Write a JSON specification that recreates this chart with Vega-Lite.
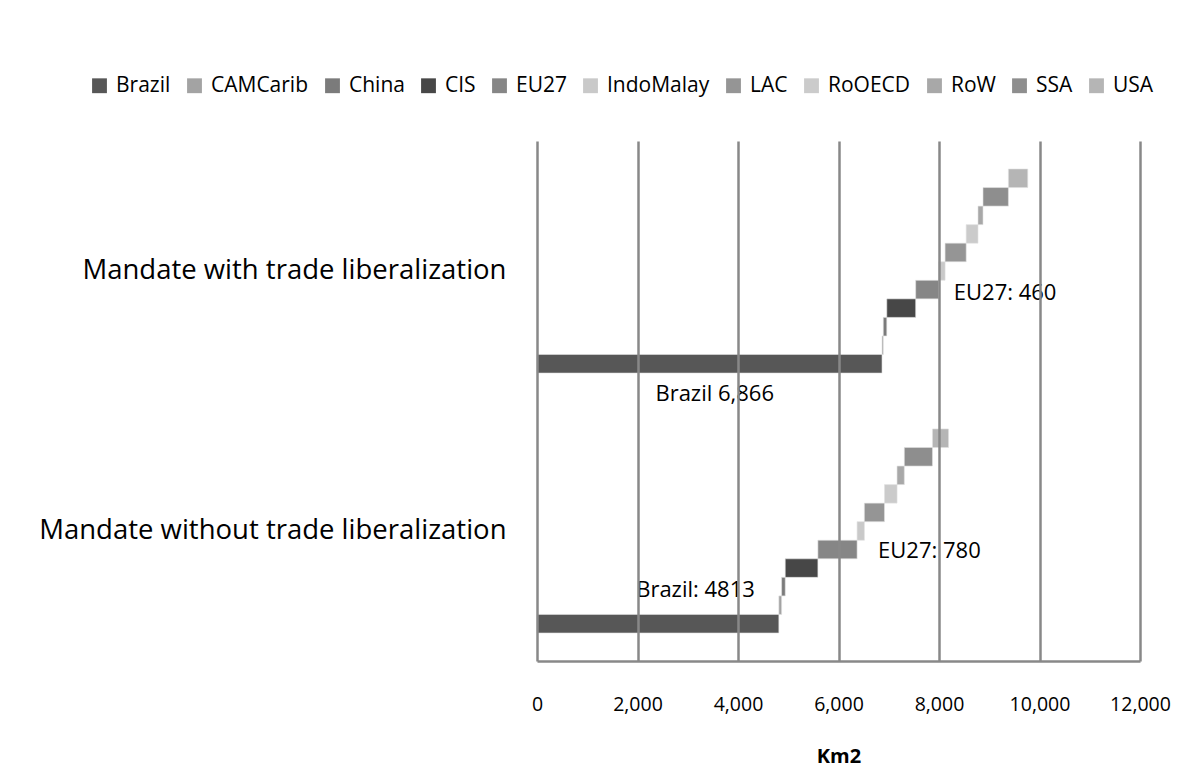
{
  "$schema": "https://vega.github.io/schema/vega-lite/v6.json",
  "width": 603,
  "height": 520,
  "autosize": "none",
  "padding": {"left": 537, "top": 141, "right": 42, "bottom": 110},
  "background": "white",
  "config": {
    "font": "Open Sans",
    "view": {"stroke": null}
  },
  "data": {
    "values": [
      {"scenario": "Mandate with trade liberalization", "region": "Brazil", "area": 6866, "note": "Brazil 6,866"},
      {"scenario": "Mandate with trade liberalization", "region": "CAMCarib", "area": 25},
      {"scenario": "Mandate with trade liberalization", "region": "China", "area": 70},
      {"scenario": "Mandate with trade liberalization", "region": "CIS", "area": 575},
      {"scenario": "Mandate with trade liberalization", "region": "EU27", "area": 460, "note": "EU27: 460"},
      {"scenario": "Mandate with trade liberalization", "region": "IndoMalay", "area": 125},
      {"scenario": "Mandate with trade liberalization", "region": "LAC", "area": 420},
      {"scenario": "Mandate with trade liberalization", "region": "RoOECD", "area": 235},
      {"scenario": "Mandate with trade liberalization", "region": "RoW", "area": 100},
      {"scenario": "Mandate with trade liberalization", "region": "SSA", "area": 505},
      {"scenario": "Mandate with trade liberalization", "region": "USA", "area": 385},
      {"scenario": "Mandate without trade liberalization", "region": "Brazil", "area": 4813, "note": "Brazil: 4813"},
      {"scenario": "Mandate without trade liberalization", "region": "CAMCarib", "area": 55},
      {"scenario": "Mandate without trade liberalization", "region": "China", "area": 72},
      {"scenario": "Mandate without trade liberalization", "region": "CIS", "area": 650},
      {"scenario": "Mandate without trade liberalization", "region": "EU27", "area": 780, "note": "EU27: 780"},
      {"scenario": "Mandate without trade liberalization", "region": "IndoMalay", "area": 145},
      {"scenario": "Mandate without trade liberalization", "region": "LAC", "area": 400},
      {"scenario": "Mandate without trade liberalization", "region": "RoOECD", "area": 250},
      {"scenario": "Mandate without trade liberalization", "region": "RoW", "area": 145},
      {"scenario": "Mandate without trade liberalization", "region": "SSA", "area": 560},
      {"scenario": "Mandate without trade liberalization", "region": "USA", "area": 320}
    ]
  },
  "transform": [
    {"window": [{"op": "row_number", "as": "rank"}], "groupby": ["scenario"]},
    {"stack": "area", "groupby": ["scenario"], "sort": [{"field": "rank", "order": "ascending"}], "as": ["start", "end"]}
  ],
  "encoding": {
    "y": {
      "field": "scenario",
      "type": "nominal",
      "sort": ["Mandate with trade liberalization", "Mandate without trade liberalization"],
      "scale": {"paddingInner": 0.215, "paddingOuter": 0.1077},
      "axis": {
        "title": null,
        "domain": false,
        "ticks": false,
        "grid": false,
        "labelFontSize": 27.5,
        "labelColor": "#000000",
        "labelPadding": 31,
        "labelLimit": 0
      }
    },
    "yOffset": {
      "field": "region",
      "type": "nominal",
      "sort": ["USA", "SSA", "RoW", "RoOECD", "LAC", "IndoMalay", "EU27", "CIS", "China", "CAMCarib", "Brazil"],
      "scale": {"paddingInner": 0, "paddingOuter": 0}
    },
    "x": {
      "field": "start",
      "type": "quantitative",
      "scale": {"domain": [0, 12000], "nice": false},
      "axis": {
        "values": [0, 2000, 4000, 6000, 8000, 10000, 12000],
        "format": ",d",
        "grid": true,
        "gridColor": "#888888",
        "gridWidth": 2.5,
        "domain": true,
        "domainColor": "#888888",
        "domainWidth": 2.5,
        "ticks": false,
        "labelFlush": false,
        "labelOverlap": false,
        "labelFontSize": 19.5,
        "labelColor": "#000000",
        "labelPadding": 34,
        "title": "Km2",
        "titleFontSize": 20,
        "titleFontWeight": "bold",
        "titleColor": "#000000",
        "titlePadding": 33,
        "zindex": 1
      }
    },
    "x2": {"field": "end"}
  },
  "layer": [
    {
      "mark": {"type": "bar", "stroke": "#e0e0e0", "strokeWidth": 0.6},
      "encoding": {
        "color": {
          "field": "region",
          "type": "nominal",
          "scale": {
            "domain": ["Brazil", "CAMCarib", "China", "CIS", "EU27", "IndoMalay", "LAC", "RoOECD", "RoW", "SSA", "USA"],
            "range": ["#575757", "#a3a3a3", "#7b7b7b", "#474747", "#868686", "#c9c9c9", "#959595", "#cbcbcb", "#a8a8a8", "#8e8e8e", "#b5b5b5"]
          },
          "legend": {
            "title": null,
            "orient": "none",
            "legendX": -448,
            "legendY": -66,
            "direction": "horizontal",
            "columns": 11,
            "symbolType": "square",
            "symbolSize": 220,
            "symbolStrokeWidth": 0,
            "symbolOpacity": 1,
            "labelFontSize": 21,
            "labelColor": "#000000",
            "labelOffset": 6,
            "columnPadding": 13,
            "labelLimit": 0
          }
        }
      }
    },
    {
      "transform": [{"filter": "datum.region === 'EU27' && datum.scenario === 'Mandate with trade liberalization'"}],
      "mark": {"type": "text", "align": "left", "baseline": "middle", "dx": 15, "dy": 3, "fontSize": 22, "color": "#000000"},
      "encoding": {"x": {"field": "end", "type": "quantitative"}, "x2": null, "text": {"field": "note"}}
    },
    {
      "transform": [{"filter": "datum.region === 'EU27' && datum.scenario === 'Mandate without trade liberalization'"}],
      "mark": {"type": "text", "align": "left", "baseline": "middle", "dx": 21, "dy": 1, "fontSize": 22, "color": "#000000"},
      "encoding": {"x": {"field": "end", "type": "quantitative"}, "x2": null, "text": {"field": "note"}}
    },
    {
      "transform": [{"filter": "datum.region === 'Brazil' && datum.scenario === 'Mandate with trade liberalization'"}],
      "mark": {"type": "text", "align": "right", "baseline": "middle", "dx": -108, "dy": 30, "fontSize": 22, "color": "#000000"},
      "encoding": {"x": {"field": "end", "type": "quantitative"}, "x2": null, "text": {"field": "note"}}
    },
    {
      "transform": [{"filter": "datum.region === 'Brazil' && datum.scenario === 'Mandate without trade liberalization'"}],
      "mark": {"type": "text", "align": "right", "baseline": "middle", "dx": -24, "dy": -34, "fontSize": 22, "color": "#000000"},
      "encoding": {"x": {"field": "end", "type": "quantitative"}, "x2": null, "text": {"field": "note"}}
    }
  ]
}
